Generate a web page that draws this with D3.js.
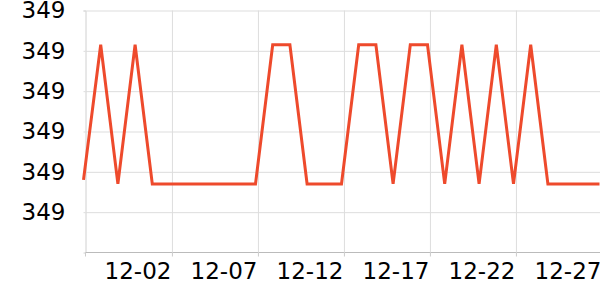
<!DOCTYPE html>
<html>
<head>
<meta charset="utf-8">
<script src="https://cdn.jsdelivr.net/npm/d3@7"></script>
<style>
  html, body { margin: 0; padding: 0; background: #fff; }
  svg { display: block; }
  svg text { font-family: "DejaVu Sans", sans-serif; }
</style>
</head>
<body>
<svg id="chart" width="600" height="300"></svg>
<script>
// one reading a day, 11-27 .. 12-27 (samples land a few hours before midnight)
const dates = [
  "2023-11-26 20:36", "2023-11-27 20:36", "2023-11-28 20:36", "2023-11-29 20:36", "2023-11-30 20:36",
  "2023-12-01 20:36", "2023-12-02 20:36", "2023-12-03 20:36", "2023-12-04 20:36", "2023-12-05 20:36",
  "2023-12-06 20:36", "2023-12-07 20:36", "2023-12-08 20:36", "2023-12-09 20:36", "2023-12-10 20:36",
  "2023-12-11 20:36", "2023-12-12 20:36", "2023-12-13 20:36", "2023-12-14 20:36", "2023-12-15 20:36",
  "2023-12-16 20:36", "2023-12-17 20:36", "2023-12-18 20:36", "2023-12-19 20:36", "2023-12-20 20:36",
  "2023-12-21 20:36", "2023-12-22 20:36", "2023-12-23 20:36", "2023-12-24 20:36", "2023-12-25 20:36",
  "2023-12-26 20:36"
];
const values = [
  349.1036, 349.1103, 349.1034, 349.1103, 349.1034,
  349.1034, 349.1034, 349.1034, 349.1034, 349.1034,
  349.1034, 349.1103, 349.1103, 349.1034, 349.1034,
  349.1034, 349.1103, 349.1103, 349.1034, 349.1103,
  349.1103, 349.1034, 349.1103, 349.1034, 349.1103,
  349.1034, 349.1103, 349.1034, 349.1034, 349.1034,
  349.1034
];
const yTicks = [349.102, 349.104, 349.106, 349.108, 349.110, 349.112];
const xTicks = ["2023-12-02 00:00", "2023-12-07 00:00", "2023-12-12 00:00", "2023-12-17 00:00", "2023-12-22 00:00", "2023-12-27 00:00"];

const parse = d3.timeParse("%Y-%m-%d %H:%M");
const data = dates.map((d, i) => ({ date: parse(d), value: values[i] }));

const svg = d3.select("#chart");
const axisX = 85.5, plotRight = 600, plotTop = 10.5, plotBottom = 252.5;

const x = d3.scaleTime()
  .domain(d3.extent(data, (d) => d.date))
  .range([83.5, 599.5]);
const y = d3.scaleLinear()
  .domain([349.100, 349.112])
  .range([plotBottom, plotTop]);

// horizontal grid + y labels
const yAxis = svg.append("g")
  .attr("transform", `translate(${axisX},0)`)
  .attr("font-family", "DejaVu Sans")
  .call(d3.axisLeft(y).tickValues(yTicks).tickSize(2).tickPadding(18).tickFormat(d3.format(".0f")));
yAxis.select(".domain").attr("stroke", "#d0d0d0");
yAxis.selectAll(".tick line").attr("stroke", "#dddddd");
yAxis.selectAll(".tick line").clone()
  .attr("x2", plotRight - axisX)
  .attr("stroke", "#dddddd");
yAxis.selectAll("text").attr("font-size", 23).attr("fill", "#000");

// vertical grid + x labels
const xAxis = svg.append("g")
  .attr("transform", `translate(0,${plotBottom})`)
  .attr("font-family", "DejaVu Sans")
  .call(d3.axisBottom(x).tickValues(xTicks.map(parse)).tickSize(4).tickFormat(d3.timeFormat("%m-%d")));
xAxis.select(".domain").attr("d", `M${axisX},0H${plotRight}`).attr("stroke", "#bbbbbb");
xAxis.selectAll(".tick line").attr("stroke", "#cccccc");
xAxis.selectAll(".tick line").clone()
  .attr("y1", 0)
  .attr("y2", plotTop - plotBottom)
  .attr("stroke", "#dddddd");
xAxis.selectAll("text")
  .attr("font-size", 23)
  .attr("fill", "#000")
  .attr("text-anchor", "end")
  .attr("x", -1)
  .attr("y", 9)
  .attr("dy", "0.75em");

// small tick under the axis corner
svg.append("line")
  .attr("x1", axisX).attr("x2", axisX)
  .attr("y1", plotBottom).attr("y2", plotBottom + 4)
  .attr("stroke", "#cccccc");

const line = d3.line()
  .x((d) => x(d.date))
  .y((d) => y(d.value));

svg.append("path")
  .datum(data)
  .attr("fill", "none")
  .attr("stroke", "#ee4a2c")
  .attr("stroke-width", 3)
  .attr("stroke-linejoin", "miter")
  .attr("d", line);
</script>
</body>
</html>
